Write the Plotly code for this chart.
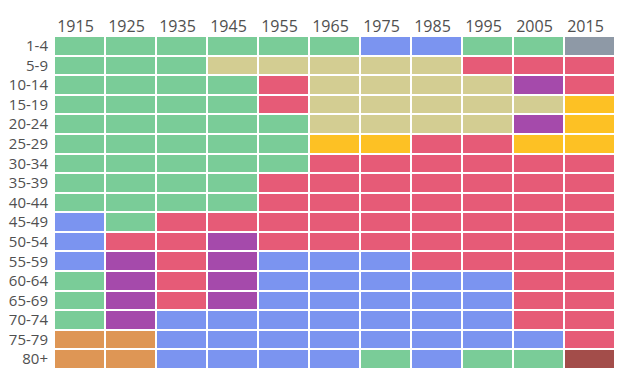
import plotly.graph_objects as go

years = ["1915", "1925", "1935", "1945", "1955", "1965", "1975", "1985", "1995", "2005", "2015"]
age_groups = ["1-4", "5-9", "10-14", "15-19", "20-24", "25-29", "30-34", "35-39", "40-44",
              "45-49", "50-54", "55-59", "60-64", "65-69", "70-74", "75-79", "80+"]

# category of leading cause per age group (rows) and decade (columns)
row_1_4   = ["G", "G", "G", "G", "G", "G", "B", "B", "G", "G", "Gr"]
row_5_9   = ["G", "G", "G", "K", "K", "K", "K", "K", "R", "R", "R"]
row_10_14 = ["G", "G", "G", "G", "R", "K", "K", "K", "K", "P", "R"]
row_15_19 = ["G", "G", "G", "G", "R", "K", "K", "K", "K", "K", "Y"]
row_20_24 = ["G", "G", "G", "G", "G", "K", "K", "K", "K", "P", "Y"]
row_25_29 = ["G", "G", "G", "G", "G", "Y", "Y", "R", "R", "Y", "Y"]
row_30_34 = ["G", "G", "G", "G", "G", "R", "R", "R", "R", "R", "R"]
row_35_39 = ["G", "G", "G", "G", "R", "R", "R", "R", "R", "R", "R"]
row_40_44 = ["G", "G", "G", "G", "R", "R", "R", "R", "R", "R", "R"]
row_45_49 = ["B", "G", "R", "R", "R", "R", "R", "R", "R", "R", "R"]
row_50_54 = ["B", "R", "R", "P", "R", "R", "R", "R", "R", "R", "R"]
row_55_59 = ["B", "P", "R", "P", "B", "B", "B", "R", "R", "R", "R"]
row_60_64 = ["G", "P", "R", "P", "B", "B", "B", "B", "B", "R", "R"]
row_65_69 = ["G", "P", "R", "P", "B", "B", "B", "B", "B", "R", "R"]
row_70_74 = ["G", "P", "B", "B", "B", "B", "B", "B", "B", "R", "R"]
row_75_79 = ["O", "O", "B", "B", "B", "B", "B", "B", "B", "B", "R"]
row_80    = ["O", "O", "B", "B", "B", "B", "G", "B", "G", "G", "D"]

rows = [row_1_4, row_5_9, row_10_14, row_15_19, row_20_24, row_25_29, row_30_34,
        row_35_39, row_40_44, row_45_49, row_50_54, row_55_59, row_60_64, row_65_69,
        row_70_74, row_75_79, row_80]

categories = ["G", "B", "K", "R", "P", "Y", "Gr", "O", "D"]
colors = ["#7acc98", "#7b94f0", "#d3cd92", "#e65b77", "#a54aab", "#fdc124", "#8e99a6", "#de9655", "#a34d4a"]

code = {c: i for i, c in enumerate(categories)}
z = [[code[c] for c in r] for r in rows]
n = len(categories)
colorscale = []
for i, col in enumerate(colors):
    colorscale.append([i / n, col])
    colorscale.append([(i + 1) / n, col])

fig = go.Figure(go.Heatmap(
    x=years, y=age_groups, z=z,
    zmin=-0.5, zmax=n - 0.5,
    colorscale=colorscale, showscale=False,
    xgap=2, ygap=2,
))

# page body has an 8px default margin, so the figure is sized to fit the window
fig.update_layout(
    width=621, height=369,
    margin=dict(l=46, r=14, t=28, b=8),
    paper_bgcolor="white", plot_bgcolor="white",
    font=dict(family="Open Sans", color="#505050"),
    xaxis=dict(side="top", showgrid=False, zeroline=False, ticks="",
               tickfont=dict(size=16), type="category", automargin=False,
               ticklabelshift=-4),
    yaxis=dict(autorange="reversed", showgrid=False, zeroline=False, ticks="",
               tickfont=dict(size=15), type="category", automargin=False,
               ticklabelstandoff=5),
)

fig.write_html("out.html")
